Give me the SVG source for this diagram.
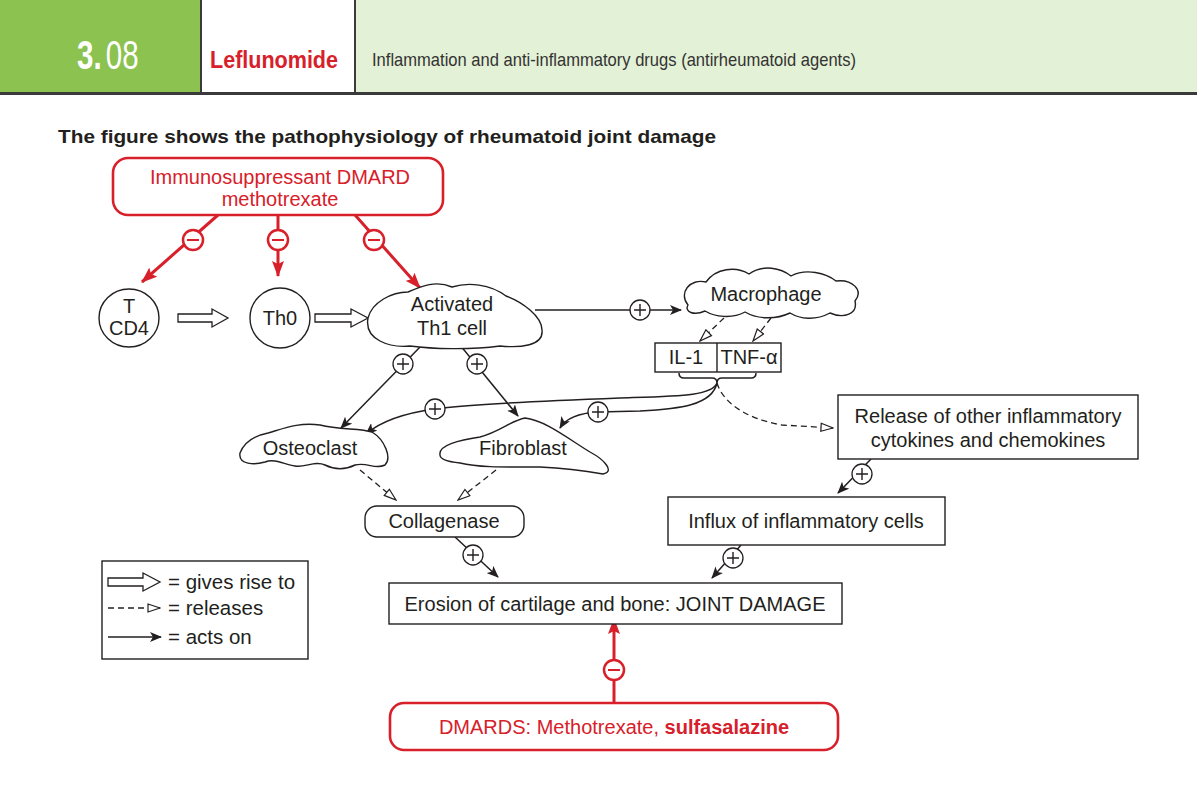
<svg xmlns="http://www.w3.org/2000/svg" width="1197" height="804" viewBox="0 0 1197 804">
<style>
text{font-family:"Liberation Sans",Arial,sans-serif;fill:#231f20}
.n{font-size:20px;text-anchor:middle}
.r{fill:#d7202a}
.shape{fill:#fff;stroke:#231f20;stroke-width:1.4}
.rbox{fill:#fff;stroke:#d7202a;stroke-width:2.6}
.ln{fill:none;stroke:#231f20;stroke-width:1.5}
.dash{fill:none;stroke:#231f20;stroke-width:1.3;stroke-dasharray:6 4}
.red{fill:none;stroke:#d7202a;stroke-width:3}
.pc{fill:#fff;stroke:#231f20;stroke-width:1.3}
.mc{fill:#fff;stroke:#d7202a;stroke-width:2.5}
.hol{fill:#fff;stroke:#231f20;stroke-width:1.3}
.lg{font-size:20.5px}
</style>
<defs>
<marker id="ab" viewBox="0 0 12 10" refX="11" refY="5" markerWidth="12" markerHeight="10" markerUnits="userSpaceOnUse" orient="auto"><path d="M0,0 L12,5 L0,10 L3,5 Z" fill="#231f20"/></marker>
<marker id="ar" viewBox="0 0 16 12" refX="15" refY="6" markerWidth="16" markerHeight="12" markerUnits="userSpaceOnUse" orient="auto"><path d="M0,0 L16,6 L0,12 L3,6 Z" fill="#d7202a"/></marker>
<marker id="ah" viewBox="0 0 14 10" refX="13" refY="5" markerWidth="14" markerHeight="10" markerUnits="userSpaceOnUse" orient="auto"><path d="M1,1 L13,5 L1,9 Z" fill="#fff" stroke="#231f20" stroke-width="1.2"/></marker>
<g id="plus"><circle r="10" class="pc"/><path d="M-6,0 H6 M0,-6 V6" stroke="#231f20" stroke-width="1.4"/></g>
<g id="minus"><circle r="10" class="mc"/><path d="M-6,0 H6" stroke="#d7202a" stroke-width="2"/></g>
</defs>

<!-- header -->
<g id="header">
<rect x="0" y="0" width="201" height="93" fill="#8bc250"/>
<rect x="201" y="0" width="154" height="93" fill="#fff"/>
<rect x="355" y="0" width="842" height="93" fill="#e3f1d6"/>
<path d="M201,0 V93 M355,0 V93" stroke="#3a3a3a" stroke-width="2"/>
<path d="M0,93.5 H1197" stroke="#3a3a3a" stroke-width="3"/>
<g transform="translate(77,69) scale(0.72,1)">
<text x="0" y="0" style="font-size:41px;font-weight:bold;fill:#fff">3.</text>
<text x="40" y="0" style="font-size:41px;fill:#fff">08</text>
</g>
<text x="210" y="68" style="font-size:23px;font-weight:bold;fill:#d7202a" textLength="128" lengthAdjust="spacingAndGlyphs">Leflunomide</text>
<text x="372" y="66" style="font-size:19px;fill:#333" textLength="484" lengthAdjust="spacingAndGlyphs">Inflammation and anti-inflammatory drugs (antirheumatoid agents)</text>
</g>
<text id="title" x="58" y="143" style="font-size:19px;font-weight:bold" textLength="658" lengthAdjust="spacingAndGlyphs">The figure shows the pathophysiology of rheumatoid joint damage</text>

<!-- connectors -->
<g id="connectors">
<path class="red" d="M218,215 L142,282" marker-end="url(#ar)"/>
<path class="red" d="M278,215 L278,276" marker-end="url(#ar)"/>
<path class="red" d="M355,215 L420,288" marker-end="url(#ar)"/>
<path class="red" d="M614,703 L614,619" marker-end="url(#ar)"/>
<polygon class="hol" points="178,314 212,314 212,309 228,318 212,327 212,322 178,322"/>
<polygon class="hol" points="315,314 351,314 351,309 368,318 351,327 351,322 315,322"/>
<path class="ln" d="M535,310 L681,310" marker-end="url(#ab)"/>
<path class="ln" d="M422,345 L341,428" marker-end="url(#ab)"/>
<path class="ln" d="M460,345 L518,416" marker-end="url(#ab)"/>
<path class="ln" d="M717,383 C712,396 680,396 620,398 C540,401 470,404 435,409 C405,413 380,422 366,434" marker-end="url(#ab)"/>
<path class="ln" d="M717,383 C712,405 680,409 640,411 L598,412 C580,413 566,418 560,428" marker-end="url(#ab)"/>
<path class="ln" d="M871,459 L838,493" marker-end="url(#ab)"/>
<path class="ln" d="M741,545 L712,578" marker-end="url(#ab)"/>
<path class="ln" d="M455,537 L498,577" marker-end="url(#ab)"/>
<path class="dash" d="M724,318 L700,341" marker-end="url(#ah)"/>
<path class="dash" d="M771,318 L753,341" marker-end="url(#ah)"/>
<path class="dash" d="M717,383 C722,400 742,418 782,425 L833,428" marker-end="url(#ah)"/>
<path class="dash" d="M360,470 L396,500" marker-end="url(#ah)"/>
<path class="dash" d="M496,470 L458,500" marker-end="url(#ah)"/>
<path class="ln" stroke-width="1.3" d="M679,373 Q679,378 684,378 L712,378 Q717,378 717,383 Q717,378 722,378 L751,378 Q756,378 756,373"/>
<use href="#minus" x="193" y="240"/>
<use href="#minus" x="278" y="240"/>
<use href="#minus" x="374" y="240"/>
<use href="#minus" x="614" y="670"/>
<use href="#plus" x="640" y="310"/>
<use href="#plus" x="403" y="364"/>
<use href="#plus" x="477" y="364"/>
<use href="#plus" x="435" y="409"/>
<use href="#plus" x="598" y="412"/>
<use href="#plus" x="862" y="474"/>
<use href="#plus" x="733" y="558"/>
<use href="#plus" x="473" y="555"/>
</g>

<!-- nodes -->
<g id="drug-top">
<rect x="113" y="158" width="330" height="57" rx="15" class="rbox"/>
<text x="280" y="184" class="n r">Immunosuppressant DMARD</text>
<text x="280" y="206" class="n r">methotrexate</text>
</g>
<g id="tcd4">
<ellipse cx="129" cy="318" rx="30" ry="29" class="shape"/>
<text x="129" y="313" class="n">T</text>
<text x="129" y="335" class="n">CD4</text>
</g>
<g id="th0">
<circle cx="280" cy="318" r="30" class="shape"/>
<text x="280" y="325" class="n">Th0</text>
</g>
<g id="th1">
<path class="shape" d="M368,318 C372,302 392,292 408,292 C422,286 436,280 452,287 C468,282 490,284 506,296 C522,302 542,316 542,330 C544,346 520,348 500,346 C470,350 432,349 410,346 C390,348 364,340 368,318 Z"/>
<text x="452" y="311" class="n">Activated</text>
<text x="452" y="335" class="n">Th1 cell</text>
</g>
<g id="macrophage">
<path class="shape" d="M688,305 C678,293 690,278 706,282 C716,268 736,266 749,274 C763,264 781,268 791,276 C806,268 826,273 836,281 C852,279 864,290 855,301 C858,314 844,319 830,313 C815,321 800,319 790,313 C775,320 757,319 745,312 C732,319 715,317 705,311 C694,316 684,312 688,305 Z"/>
<text x="766" y="301" class="n">Macrophage</text>
</g>
<g id="cytokines">
<rect x="655" y="343" width="126" height="29" class="shape"/>
<path d="M717,343 V372" stroke="#231f20" stroke-width="1.4"/>
<text x="686" y="364" class="n">IL-1</text>
<text x="749" y="364" class="n">TNF-α</text>
</g>
<g id="osteoclast">
<path class="shape" d="M240,453 C245,440 258,435 268,433 C285,428 300,422 320,425 C340,430 360,428 372,432 C385,440 392,458 385,465 C375,470 368,462 355,465 C345,470 335,470 325,465 C315,460 305,468 295,466 C285,465 275,458 265,462 C255,465 238,465 240,453 Z"/>
<text x="310" y="455" class="n">Osteoclast</text>
</g>
<g id="fibroblast">
<path class="shape" d="M440,455 C438,445 460,440 480,437 C500,432 512,420 525,418 C545,420 570,440 590,452 C605,460 615,472 603,474 C580,470 560,468 540,467 C510,467 480,468 460,463 C450,462 440,460 440,455 Z"/>
<text x="523" y="455" class="n">Fibroblast</text>
</g>
<g id="release">
<rect x="838" y="395" width="300" height="64" class="shape"/>
<text x="988" y="423" class="n">Release of other inflammatory</text>
<text x="988" y="447" class="n">cytokines and chemokines</text>
</g>
<g id="collagenase">
<rect x="365" y="506" width="159" height="31" rx="12" class="shape"/>
<text x="444" y="528" class="n">Collagenase</text>
</g>
<g id="influx">
<rect x="668" y="497" width="277" height="48" class="shape"/>
<text x="806" y="528" class="n">Influx of inflammatory cells</text>
</g>
<g id="erosion">
<rect x="389" y="583" width="453" height="41" class="shape"/>
<text x="615" y="611" class="n">Erosion of cartilage and bone: JOINT DAMAGE</text>
</g>
<g id="drug-bottom">
<rect x="390" y="703" width="448" height="47" rx="14" class="rbox"/>
<text x="614" y="734" class="n r">DMARDS: Methotrexate, <tspan font-weight="bold" class="r">sulfasalazine</tspan></text>
</g>
<g id="legend">
<rect x="102" y="561" width="206" height="98" class="shape"/>
<polygon class="hol" points="108,578 143,578 143,573 160,582 143,591 143,586 108,586"/>
<text x="168" y="589" class="lg">= gives rise to</text>
<path class="dash" stroke-dasharray="5 3" d="M108,608 L160,608" marker-end="url(#ah)"/>
<text x="168" y="615" class="lg">= releases</text>
<path class="ln" d="M108,637 L161,637" marker-end="url(#ab)"/>
<text x="168" y="644" class="lg">= acts on</text>
</g>
</svg>
